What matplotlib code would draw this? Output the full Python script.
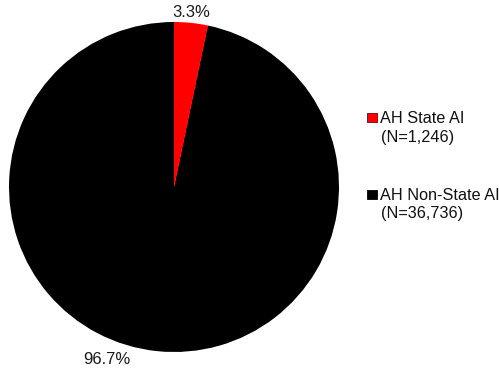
import numpy as np
import matplotlib
matplotlib.use("Agg")
import matplotlib.pyplot as plt
from matplotlib.patches import Rectangle

# Data
categories = ["AH State AI", "AH Non-State AI"]
counts = [1246, 36736]
percent_labels = ["3.3%", "96.7%"]
colors = ["#ff0000", "#000000"]
edge_colors = ["#7a0000", "#000000"]

plt.rcParams["font.family"] = ["Liberation Sans", "DejaVu Sans"]

W, H = 499, 370
fig = plt.figure(figsize=(W / 100, H / 100), dpi=100)

# pie centre and radius in pixels (from top-left)
cx, cy, r = 174, 187, 165
ax = fig.add_axes([(cx - r) / W, (H - cy - r) / H, 2 * r / W, 2 * r / H])
wedges, _ = ax.pie(counts, colors=colors, startangle=90, counterclock=False,
                   radius=1.0, wedgeprops=dict(linewidth=0))
ax.set_xlim(-1, 1)
ax.set_ylim(-1, 1)
ax.set_aspect("equal")
ax.axis("off")

# percentage labels: (angle in degrees, distance in radii)
label_pos = [(84.4, 1.06), (-111.3, 1.12)]
for txt, (ang, dist) in zip(percent_labels, label_pos):
    a = np.deg2rad(ang)
    ax.text(dist * np.cos(a), dist * np.sin(a), txt, ha="center", va="center",
            fontsize=12, color="#1a1a1a", clip_on=False)

# legend drawn by hand so the swatch sits beside the first line
legend_rows = [117.8, 194.5]
for cat, n, col, ec, y in zip(categories, counts, colors, edge_colors, legend_rows):
    fig.patches.append(Rectangle((367 / W, (H - y - 4.5) / H), 9.5 / W, 9 / H,
                                 transform=fig.transFigure, facecolor=col,
                                 edgecolor=ec, linewidth=0.6))
    fig.text(380.5 / W, (H - y + 6.5) / H, f"{cat}\n(N={n:,})", ha="left", va="top",
             fontsize=11.7, color="#111111", linespacing=1.28,
             transform=fig.transFigure)

fig.savefig("out.png", dpi=100, facecolor="white")
